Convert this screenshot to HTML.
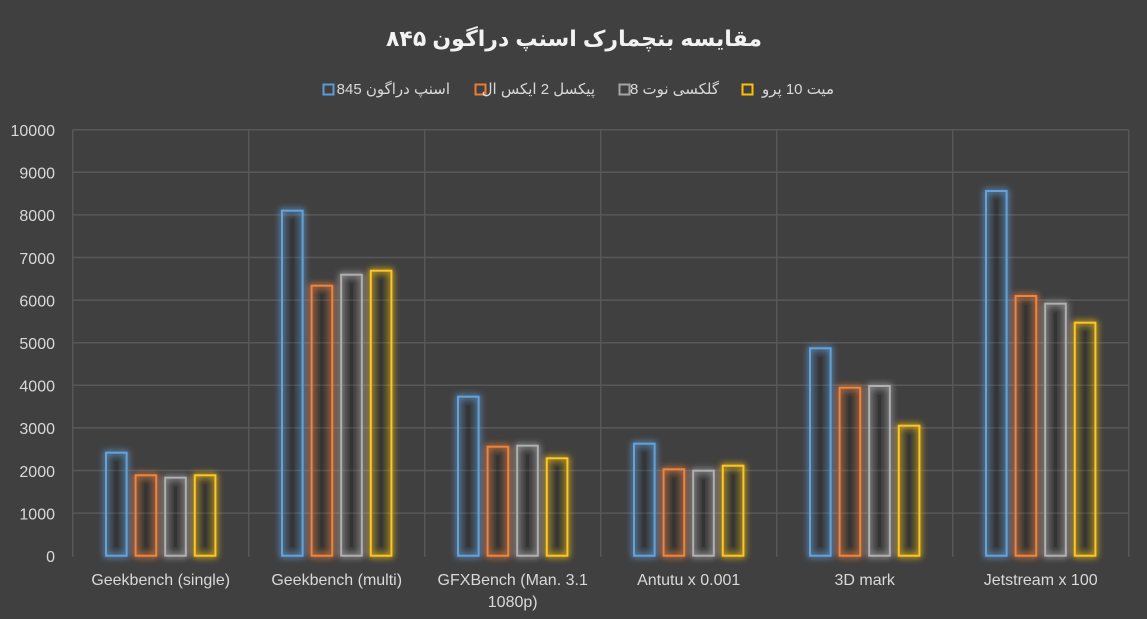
<!DOCTYPE html>
<html><head><meta charset="utf-8">
<style>
html,body{margin:0;padding:0;background:#404040;}
body{width:1147px;height:619px;overflow:hidden;position:relative;}
svg{position:absolute;left:0;top:0;}
.t{font-family:"Liberation Sans","DejaVu Sans",sans-serif;}
.lg{position:absolute;top:80px;height:20px;line-height:20px;font-family:"Liberation Sans","DejaVu Sans",sans-serif;font-size:15px;color:#d9d9d9;white-space:nowrap;direction:rtl;text-align:right;}
</style></head>
<body>
<svg width="1147" height="619" viewBox="0 0 1147 619" xmlns="http://www.w3.org/2000/svg">
<defs>
<filter id="glow" x="-50%" y="-10%" width="200%" height="120%">
<feGaussianBlur in="SourceGraphic" stdDeviation="3.4" result="b"/>
<feComponentTransfer in="b" result="b2"><feFuncA type="linear" slope="1.6"/></feComponentTransfer>
<feMerge><feMergeNode in="b2"/><feMergeNode in="SourceGraphic"/></feMerge>
</filter>
</defs>
<rect width="1147" height="619" fill="#404040"/>
<!-- title -->
<text x="574" y="46" text-anchor="middle" class="t" font-size="22" font-weight="bold" fill="#f2f2f2">مقایسه بنچمارک اسنپ دراگون ۸۴۵</text>
<!-- legend squares -->
<rect x="323.5" y="84.5" width="10" height="10" fill="none" stroke="#5b9bd5" stroke-width="2"/>
<rect x="475.5" y="84.5" width="10" height="10" fill="none" stroke="#ed7d31" stroke-width="2"/>
<rect x="619.5" y="84.5" width="10" height="10" fill="none" stroke="#a5a5a5" stroke-width="2"/>
<rect x="742.5" y="84.5" width="10" height="10" fill="none" stroke="#ffc000" stroke-width="2"/>
<!-- grid -->
<g stroke="#585858" stroke-width="1.5">
<line x1="72.7" y1="129.7" x2="1128.7" y2="129.7"/>
<line x1="72.7" y1="172.3" x2="1128.7" y2="172.3"/>
<line x1="72.7" y1="214.9" x2="1128.7" y2="214.9"/>
<line x1="72.7" y1="257.5" x2="1128.7" y2="257.5"/>
<line x1="72.7" y1="300.1" x2="1128.7" y2="300.1"/>
<line x1="72.7" y1="342.7" x2="1128.7" y2="342.7"/>
<line x1="72.7" y1="385.3" x2="1128.7" y2="385.3"/>
<line x1="72.7" y1="427.9" x2="1128.7" y2="427.9"/>
<line x1="72.7" y1="470.5" x2="1128.7" y2="470.5"/>
<line x1="72.7" y1="513.1" x2="1128.7" y2="513.1"/>
<line x1="72.7" y1="129.7" x2="72.7" y2="556.7"/>
<line x1="248.7" y1="129.7" x2="248.7" y2="556.7"/>
<line x1="424.7" y1="129.7" x2="424.7" y2="556.7"/>
<line x1="600.7" y1="129.7" x2="600.7" y2="556.7"/>
<line x1="776.7" y1="129.7" x2="776.7" y2="556.7"/>
<line x1="952.7" y1="129.7" x2="952.7" y2="556.7"/>
<line x1="1128.7" y1="129.7" x2="1128.7" y2="556.7"/>
</g>
<!-- y labels -->
<g class="t" font-size="16" fill="#d9d9d9" text-anchor="end">
<text x="55" y="136">10000</text>
<text x="55" y="178.6">9000</text>
<text x="55" y="221.2">8000</text>
<text x="55" y="263.8">7000</text>
<text x="55" y="306.4">6000</text>
<text x="55" y="349">5000</text>
<text x="55" y="391.6">4000</text>
<text x="55" y="434.2">3000</text>
<text x="55" y="476.8">2000</text>
<text x="55" y="519.4">1000</text>
<text x="55" y="562">0</text>
</g>
<!-- bars -->
<g fill="rgba(0,0,0,0.07)" stroke-width="2" filter="url(#glow)">
<g stroke="#64a2dc">
<rect x="106" y="452.7" width="20.6" height="103"/>
<rect x="282" y="210.7" width="20.6" height="345"/>
<rect x="458" y="396.7" width="20.6" height="159"/>
<rect x="634" y="443.7" width="20.6" height="112"/>
<rect x="810" y="348.3" width="20.6" height="207.4"/>
<rect x="986" y="191" width="20.6" height="364.7"/>
</g>
<g stroke="#f0843e">
<rect x="135.6" y="475.3" width="20.6" height="80.4"/>
<rect x="311.6" y="285.7" width="20.6" height="270"/>
<rect x="487.6" y="446.7" width="20.6" height="109"/>
<rect x="663.6" y="469.3" width="20.6" height="86.4"/>
<rect x="839.6" y="387.7" width="20.6" height="168"/>
<rect x="1015.6" y="296" width="20.6" height="259.7"/>
</g>
<g stroke="#b0b0b0">
<rect x="165.2" y="477.7" width="20.6" height="78"/>
<rect x="341.2" y="274.7" width="20.6" height="281"/>
<rect x="517.2" y="445.7" width="20.6" height="110"/>
<rect x="693.2" y="470.7" width="20.6" height="85"/>
<rect x="869.2" y="386" width="20.6" height="169.7"/>
<rect x="1045.2" y="303.7" width="20.6" height="252"/>
</g>
<g stroke="#ffc81a">
<rect x="194.8" y="475.3" width="20.6" height="80.4"/>
<rect x="370.8" y="270.7" width="20.6" height="285"/>
<rect x="546.8" y="458.3" width="20.6" height="97.4"/>
<rect x="722.8" y="465.7" width="20.6" height="90"/>
<rect x="898.8" y="425.7" width="20.6" height="130"/>
<rect x="1074.8" y="322.7" width="20.6" height="233"/>
</g>
</g>
<!-- x labels -->
<g class="t" font-size="16" fill="#d9d9d9" text-anchor="middle">
<text x="160.7" y="585">Geekbench (single)</text>
<text x="336.7" y="585">Geekbench (multi)</text>
<text x="512.7" y="585">GFXBench (Man. 3.1</text>
<text x="512.7" y="607">1080p)</text>
<text x="688.7" y="585">Antutu x 0.001</text>
<text x="864.7" y="585">3D mark</text>
<text x="1040.7" y="585">Jetstream x 100</text>
</g>
</svg>
<div class="lg" style="left:336px;width:114px;">اسنپ دراگون 845</div>
<div class="lg" style="left:488px;width:107px;">پیکسل 2 ایکس ال</div>
<div class="lg" style="left:632px;width:87px;">گلکسی نوت 8</div>
<div class="lg" style="left:755px;width:79px;">میت 10 پرو</div>
</body></html>
